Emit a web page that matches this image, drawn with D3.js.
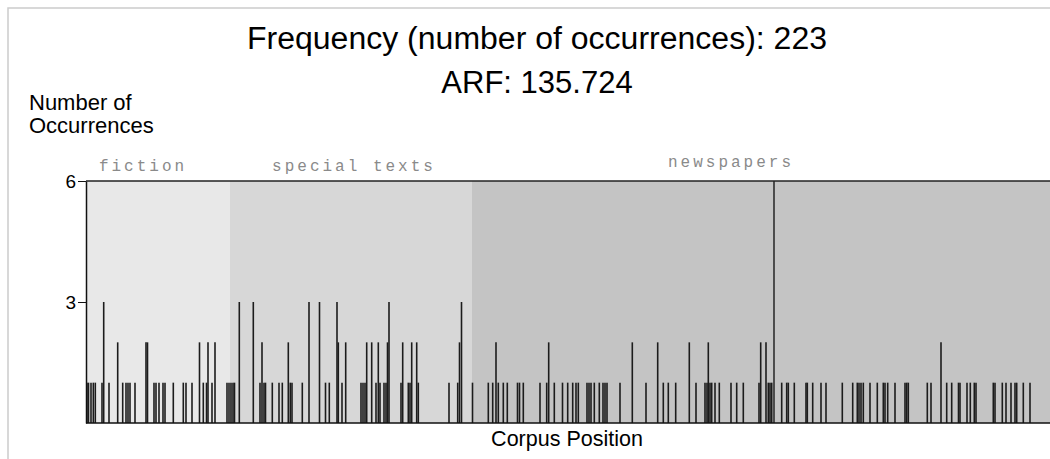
<!DOCTYPE html>
<html>
<head>
<meta charset="utf-8">
<script src="https://cdn.jsdelivr.net/npm/d3@7"></script>
<style>
  body { margin: 0; background: #fff; }
  svg { display: block; }
</style>
</head>
<body>
<div id="svg"></div>
<script>
let w = 1050;
let h = 459;

// corpus sections (corpus position, thousand tokens)
let sectionNames = ['fiction', 'special texts', 'newspapers'];
let sectionStarts = [0, 144, 386];
let sectionEnds = [144, 386, 964];
let sectionFill = ['#e8e8e8', '#d7d7d7', '#c4c4c4'];
let labelPos = [57, 268, 645];
let subDivider = [688];

// occurrences: corpus position and count at that position
let positions = [
  1, 2.5, 5, 7.3, 9.3, 16, 17.7, 23, 31.7, 36.7, 40, 42, 44, 49, 60, 61.5, 68, 70, 73, 77, 79,
  87.3, 97.3, 100, 106, 113.5, 117.3, 120.5, 122, 126, 129, 141, 143, 145, 147, 148.5,
  153.3, 167.3, 174, 176, 178, 179.5, 186.3, 193, 196.3, 202.3, 204.3, 206, 216.3, 223, 233.5,
  239.5, 243.3, 251, 252.3, 256, 259.7, 275, 277, 279, 280.7, 285.7, 290, 292.3, 294,
  298, 300, 301.5, 303, 315, 316.7, 322.3, 324, 325.7, 330.7, 332.3, 363, 371.7, 373.5, 375.5,
  386.5, 402.3, 406.7, 410, 412.3, 417.3, 421.3, 431.5, 433.5, 437.3, 454, 460.7, 462.7, 468.3,
  476.5, 481.7, 486.7, 490, 492.3, 501, 503, 505, 508.3, 513.3, 517, 519, 521, 534, 546.3,
  560, 571.7, 577.3, 582.3, 589.7, 603.3, 610, 619, 621, 622.3, 624, 625.7, 629, 633.3,
  645, 650.7, 657.3, 673, 674.7, 680, 682.3, 684, 685.7, 695.7, 700.7, 702.3, 708.3,
  720, 721.3, 726.7, 735, 740, 756.3, 766.7, 771.3, 773, 775, 777.3, 784, 791.3, 797.3, 799,
  801.7, 809, 819, 820.7, 822.3, 841.3, 845, 855, 860.7, 865.7, 872.5, 874, 881, 884.3,
  888.3, 890, 907.3, 909, 916.3, 920, 925, 929, 930.7, 937.3, 944
];
let counts = [
  1, 1, 1, 1, 1, 1, 3, 1, 2, 1, 1, 1, 1, 1, 2, 2, 1, 1, 1, 1, 1,
  1, 1, 1, 1, 2, 1, 1, 2, 1, 2, 1, 1, 1, 1, 1,
  3, 3, 1, 2, 1, 1, 1, 1, 1, 2, 1, 1, 1, 3, 3,
  1, 1, 3, 2, 1, 2, 1, 1, 1, 2, 2, 1, 2, 1,
  1, 1, 2, 3, 1, 2, 1, 1, 2, 2, 1, 1, 1, 2, 3,
  1, 1, 1, 2, 1, 1, 1, 1, 1, 1, 1, 1, 2, 1,
  1, 1, 1, 1, 1, 1, 1, 1, 1, 1, 1, 1, 1, 1, 2,
  1, 2, 1, 1, 1, 2, 1, 1, 1, 2, 1, 1, 1, 1,
  1, 1, 1, 1, 2, 2, 1, 1, 1, 1, 1, 1, 1,
  1, 1, 1, 1, 1, 1, 1, 1, 1, 1, 1, 1, 1, 1, 1,
  1, 1, 1, 1, 1, 1, 1, 2, 1, 1, 1, 1, 1, 1,
  1, 1, 1, 1, 1, 1, 1, 1, 1, 1, 1
];
let yTicks = [3, 6];

let svg = d3.select('#svg')
  .append('svg')
  .attr('width', w)
  .attr('height', h)
  .style('font-family', '"Liberation Sans", Arial, sans-serif');

let xScale = d3.scaleLinear().domain([0, 964]).range([86, 1050]);
let yScale = d3.scaleLinear().domain([0, 6]).range([423, 181]);

// frame
svg.append('path')
  .attr('d', 'M8,' + h + 'V8H' + w)
  .style('fill', 'none')
  .style('stroke', '#cccccc')
  .style('stroke-width', 1.5);

// titles
svg.append('text')
  .text('Frequency (number of occurrences): 223')
  .attr('x', 537).attr('y', 49)
  .attr('text-anchor', 'middle')
  .attr('textLength', 580)
  .attr('lengthAdjust', 'spacingAndGlyphs')
  .style('font-size', '31px');
svg.append('text')
  .text('ARF: 135.724')
  .attr('x', 537).attr('y', 93)
  .attr('text-anchor', 'middle')
  .style('font-size', '31px');

// y label
svg.append('text')
  .text('Number of')
  .attr('x', 29).attr('y', 110)
  .style('font-size', '22px');
svg.append('text')
  .text('Occurrences')
  .attr('x', 29).attr('y', 133)
  .style('font-size', '22px');

// section backgrounds
svg.selectAll('rect.section')
  .data(sectionNames)
  .enter()
  .append('rect')
  .attr('class', 'section')
  .attr('x', (d, i) => xScale(sectionStarts[i]))
  .attr('y', yScale(6))
  .attr('width', (d, i) => xScale(sectionEnds[i]) - xScale(sectionStarts[i]))
  .attr('height', yScale(0) - yScale(6))
  .style('fill', (d, i) => sectionFill[i]);

svg.selectAll('text.section')
  .data(sectionNames)
  .enter()
  .append('text')
  .attr('class', 'section')
  .text(d => d)
  .attr('x', (d, i) => xScale(labelPos[i]))
  .attr('y', (d, i) => i == 2 ? 167 : 171)
  .attr('text-anchor', 'middle')
  .style('font-family', '"Liberation Mono", "DejaVu Sans Mono", monospace')
  .style('font-size', '16px')
  .style('letter-spacing', '3px')
  .style('fill', '#8a8a8a');

// occurrences
svg.selectAll('line.bar')
  .data(positions)
  .enter()
  .append('line')
  .attr('class', 'bar')
  .attr('x1', d => xScale(d))
  .attr('x2', d => xScale(d))
  .attr('y1', yScale(0))
  .attr('y2', (d, i) => yScale(counts[i]))
  .style('stroke', '#1c1c1c')
  .style('stroke-width', 1.6);

// sub-divider inside newspapers
svg.selectAll('line.div')
  .data(subDivider)
  .enter()
  .append('line')
  .attr('class', 'div')
  .attr('x1', d => xScale(d)).attr('x2', d => xScale(d))
  .attr('y1', yScale(6)).attr('y2', yScale(0))
  .style('stroke', '#1a1a1a')
  .style('stroke-width', 1.4);

// top and bottom lines
svg.append('line')
  .attr('x1', xScale(0)).attr('x2', w)
  .attr('y1', yScale(6)).attr('y2', yScale(6))
  .style('stroke', '#222').style('stroke-width', 1.5);
svg.append('line')
  .attr('x1', xScale(0)).attr('x2', w)
  .attr('y1', yScale(0)).attr('y2', yScale(0))
  .style('stroke', '#111').style('stroke-width', 1.5);

// y axis
let yAxis = d3.axisLeft(yScale)
  .tickValues(yTicks)
  .tickFormat(d3.format('d'))
  .tickSize(8).tickSizeOuter(0).tickPadding(2);
let gy = svg.append('g')
  .attr('transform', 'translate(' + xScale(0) + ',0)')
  .call(yAxis);
gy.select('.domain').style('stroke', '#111').style('stroke-width', 1.5);
gy.selectAll('.tick line').style('stroke', '#111');
gy.selectAll('.tick text')
  .style('font-family', '"Liberation Sans", Arial, sans-serif')
  .style('font-size', '19px')
  .style('fill', '#000');

// x label
svg.append('text')
  .text('Corpus Position')
  .attr('x', 567).attr('y', 446)
  .attr('text-anchor', 'middle')
  .style('font-size', '21.5px');
</script>
</body>
</html>
